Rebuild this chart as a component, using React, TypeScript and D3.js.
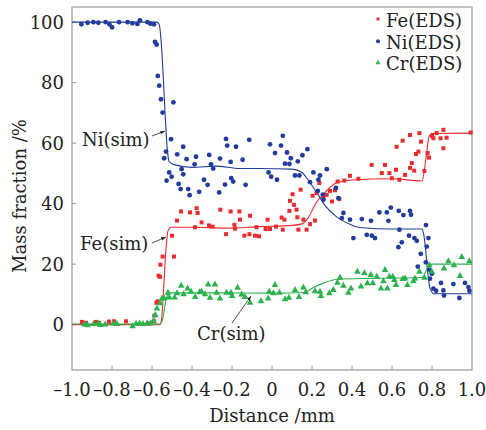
import React from "react";
import * as d3 from "d3";

const xTicks = [-1.0, -0.8, -0.6, -0.4, -0.2, 0, 0.2, 0.4, 0.6, 0.8, 1.0];
const xTickLabels = ["–1.0", "–0.8", "–0.6", "–0.4", "–0.2", "0", "0.2", "0.4", "0.6", "0.8", "1.0"];
const yTicks = [0, 20, 40, 60, 80, 100];

const niSim: [number, number][] = [
  [-1, 100], [-0.575, 100], [-0.563, 99], [-0.556, 95], [-0.522, 57], [-0.515, 54], [-0.49, 52.9], [-0.4, 52.0],
  [-0.28, 52.4], [-0.16, 51.6], [-0.06, 51.6], [0.1, 51.4], [0.15, 50.3], [0.18, 47.9], [0.22, 44], [0.27, 39],
  [0.32, 35.8], [0.39, 33.2], [0.44, 32.1], [0.6, 31.6], [0.75, 31.6], [0.758, 30], [0.79, 12], [0.81, 10.2], [1, 10.2],
];
const feSim: [number, number][] = [
  [-1, 0], [-0.56, 0], [-0.552, 2], [-0.53, 25], [-0.52, 31], [-0.505, 32.2], [-0.4, 32.2], [-0.23, 31.9],
  [-0.06, 32.4], [0.1, 32.8], [0.15, 33.3], [0.18, 35.2], [0.22, 40.2], [0.27, 44], [0.32, 46.8], [0.4, 47.8],
  [0.6, 48.2], [0.75, 47.5], [0.77, 55], [0.785, 62.2], [0.8, 63.2], [1, 63.3],
];
const crSim: [number, number][] = [
  [-1, 0.2], [-0.56, 0.2], [-0.55, 1], [-0.525, 9.5], [-0.512, 10.5], [-0.3, 10.5], [0.0, 10.4], [0.16, 10.6],
  [0.2, 12], [0.26, 13.8], [0.33, 15.0], [0.5, 15.3], [0.75, 15.6], [0.785, 19.6], [0.8, 20], [1, 20],
];

const niEDS: [number, number][] = [
  [-0.953, 99.3], [-0.922, 99.8], [-0.893, 100], [-0.868, 99.8], [-0.832, 100], [-0.813, 99.3], [-0.8, 98.3],
  [-0.765, 100], [-0.722, 100], [-0.698, 99.6], [-0.673, 99.4], [-0.66, 100.6], [-0.623, 100], [-0.608, 99.5],
  [-0.59, 99.3], [-0.585, 93.5], [-0.577, 92.6], [-0.571, 82.2], [-0.564, 79.0], [-0.555, 74.5], [-0.547, 70.1],
  [-0.493, 73.5],
  [-0.539, 55.0], [-0.53, 57.2], [-0.505, 61.3], [-0.514, 50.3], [-0.502, 48.9], [-0.527, 47.6], [-0.474, 56.3],
  [-0.444, 58.8], [-0.452, 51.4], [-0.444, 49.7], [-0.467, 46.5], [-0.457, 44.8], [-0.419, 44.8], [-0.412, 42.8],
  [-0.427, 54.7], [-0.387, 53.0], [-0.38, 55.5], [-0.364, 43.9], [-0.34, 47.9], [-0.322, 46.2], [-0.314, 56.1],
  [-0.305, 53.0], [-0.294, 51.6], [-0.26, 54.9], [-0.264, 43.7], [-0.235, 46.3], [-0.23, 61.4], [-0.224, 59.2],
  [-0.207, 53.8], [-0.204, 48.4], [-0.194, 47.3], [-0.18, 58.8], [-0.147, 54.5], [-0.132, 46.2], [-0.114, 61.1],
  [-0.017, 50.3], [-0.01, 59.6], [-0.004, 48.9], [0.015, 56.7], [0.025, 47.9], [0.045, 59.2], [0.054, 62.4],
  [0.065, 53.2], [0.075, 56.9], [0.087, 53.1], [0.094, 55.0], [0.115, 49.3], [0.129, 54.0], [0.137, 49.3],
  [0.152, 56.0], [0.177, 58.0], [0.19, 47.1], [0.207, 50.3], [0.232, 47.9], [0.24, 49.3], [0.254, 43.0],
  [0.274, 51.4], [0.229, 44.2], [0.257, 41.3], [0.32, 45.2], [0.332, 41.8], [0.357, 36.9], [0.349, 35.2],
  [0.39, 34.7], [0.407, 28.6], [0.449, 34.9], [0.474, 29.7], [0.499, 29.4], [0.495, 34.3], [0.515, 28.6],
  [0.537, 37.1], [0.574, 37.1], [0.582, 34.3], [0.594, 38.7], [0.634, 37.6], [0.657, 36.2], [0.69, 37.6],
  [0.695, 36.3], [0.637, 31.4], [0.685, 29.4], [0.712, 28.6], [0.77, 32.9], [0.782, 28.6], [0.774, 25.8],
  [0.649, 27.2], [0.632, 25.6], [0.724, 27.7],
  [0.744, 23.4], [0.769, 20.6], [0.729, 19.2], [0.787, 18.2], [0.799, 16.8], [0.79, 15.2], [0.807, 11.9],
  [0.82, 11.2], [0.857, 11.3], [0.86, 9.6], [0.845, 13.8], [0.907, 13.4], [0.937, 8.8], [0.965, 13.8],
  [0.982, 12.4], [0.987, 11.2],
];

const feEDS: [number, number][] = [
  [-0.95, 0.9], [-0.93, 0.6], [-0.88, 0.9], [-0.865, 0.6], [-0.815, 1.0], [-0.79, 1.1], [-0.73, 1.1],
  [-0.617, 0.4], [-0.59, 1.1], [-0.588, 3.0], [-0.578, 7.2], [-0.572, 7.7], [-0.567, 16.2], [-0.56, 15.8],
  [-0.558, 19.8], [-0.547, 22.5], [-0.49, 22.5], [-0.5, 29.4], [-0.475, 34.4], [-0.455, 37.4],
  [-0.41, 37.1], [-0.377, 38.5], [-0.372, 36.9], [-0.352, 33.8], [-0.385, 32.2], [-0.315, 32.8], [-0.297, 32.4],
  [-0.258, 38.0], [-0.23, 29.9], [-0.207, 37.4], [-0.188, 33.0], [-0.163, 37.4], [-0.16, 34.7], [-0.185, 31.7],
  [-0.138, 29.4], [-0.113, 29.9], [-0.085, 29.4], [-0.065, 29.2], [-0.11, 36.0], [-0.077, 32.2], [-0.032, 31.6],
  [-0.01, 31.6], [-0.022, 34.7], [0.02, 32.4], [0.054, 31.4], [0.048, 35.4], [0.062, 34.7], [0.09, 40.9],
  [0.087, 37.6], [0.103, 43.1], [0.11, 39.6], [0.123, 38.0], [0.127, 35.5], [0.132, 31.4], [0.143, 44.6],
  [0.157, 34.7], [0.173, 31.4], [0.19, 33.2], [0.215, 34.4], [0.203, 42.6], [0.223, 43.5], [0.237, 46.8],
  [0.257, 41.8], [0.273, 42.9], [0.29, 44.2], [0.3, 40.7], [0.315, 44.4], [0.328, 47.3], [0.337, 41.5],
  [0.362, 47.6], [0.39, 49.2], [0.432, 48.2], [0.498, 52.8], [0.549, 50.1], [0.565, 52.8], [0.587, 50.1],
  [0.599, 48.4], [0.62, 51.2], [0.637, 47.9], [0.665, 49.5], [0.69, 51.8], [0.711, 50.9], [0.699, 53.4],
  [0.762, 50.8],
  [0.623, 58.8], [0.653, 60.8], [0.69, 62.7], [0.72, 56.4], [0.732, 57.2], [0.737, 63.3], [0.745, 60.5],
  [0.778, 56.7], [0.785, 55.2], [0.8, 62.4], [0.807, 61.6], [0.823, 63.3], [0.843, 61.6], [0.857, 64.4],
  [0.857, 58.3], [0.873, 61.8], [0.993, 63.5],
];

const crEDS: [number, number][] = [
  [-0.937, 0.2], [-0.922, -0.1], [-0.892, 0.3], [-0.87, 0.5], [-0.859, 0.0], [-0.834, 0.2], [-0.795, 0.5],
  [-0.775, 0.3], [-0.697, -0.4], [-0.68, 0.4], [-0.662, 0.5], [-0.645, 0.3], [-0.625, 0.5], [-0.605, 0.6],
  [-0.592, 1.4], [-0.584, 3.3], [-0.575, 5.5], [-0.559, 7.2], [-0.55, 8.8], [-0.539, 8.8], [-0.52, 10.7],
  [-0.514, 9.1], [-0.487, 9.1], [-0.475, 10.5], [-0.454, 13.0], [-0.442, 10.2], [-0.422, 12.1], [-0.405, 11.0],
  [-0.384, 9.3], [-0.362, 10.8], [-0.352, 11.0], [-0.335, 10.2], [-0.319, 13.4], [-0.31, 9.0], [-0.285, 13.4],
  [-0.277, 10.7], [-0.26, 8.8], [-0.227, 10.7], [-0.205, 10.7], [-0.2, 9.6], [-0.172, 12.3], [-0.152, 10.1],
  [-0.135, 9.3], [-0.11, 7.4], [-0.055, 7.9], [-0.019, 8.8], [-0.014, 11.0], [0.007, 10.5], [0.015, 13.2],
  [0.037, 10.7], [0.065, 8.5], [0.085, 9.0], [0.115, 11.6], [0.135, 9.3], [0.157, 12.4], [0.169, 10.8],
  [0.215, 11.2], [0.24, 11.0], [0.245, 9.6], [0.287, 10.5], [0.307, 11.6], [0.327, 14.0], [0.34, 15.6],
  [0.357, 13.0], [0.382, 10.7], [0.395, 12.1], [0.427, 17.6], [0.445, 12.7], [0.462, 17.1], [0.477, 13.8],
  [0.494, 16.5], [0.504, 13.8], [0.524, 16.0], [0.545, 12.1], [0.557, 14.5], [0.565, 18.2], [0.577, 12.1],
  [0.587, 16.0], [0.604, 16.0], [0.612, 14.9], [0.62, 13.2], [0.654, 15.2], [0.665, 15.4], [0.677, 13.2],
  [0.707, 14.5], [0.715, 15.4], [0.737, 17.6], [0.762, 15.6], [0.787, 19.8], [0.799, 17.6], [0.86, 18.7],
  [0.882, 21.1], [0.91, 19.8], [0.94, 16.2], [0.949, 22.5], [0.987, 21.1],
];

const legendItems = ["Fe(EDS)", "Ni(EDS)", "Cr(EDS)"];

const RED = "#ec2a2f";
const BLUE = "#213c9e";
const GREEN = "#2bb24c";
const AXIS = "#9a9a9a";
const FONT = "DejaVu Serif";

export default function App() {
  const W = 486, H = 430;
  const left = 72, right = 472, top = 7, bottom = 370;
  const x = d3.scaleLinear().domain([-1, 1]).range([left, right]);
  const y = d3.scaleLinear().domain([-15, 105]).range([bottom, top]);
  const lineGen = d3
    .line<[number, number]>()
    .x((d) => x(d[0]))
    .y((d) => y(d[1]))
    .curve(d3.curveMonotoneX);

  const tri = (cx: number, cy: number, s: number) =>
    `M${cx},${cy - s * 0.6}L${cx + s * 0.55},${cy + s * 0.4}L${cx - s * 0.55},${cy + s * 0.4}Z`;

  const legendColors = [RED, BLUE, GREEN];

  return (
    <svg width={W} height={H} style={{ position: "absolute", left: 0, top: 0, background: "#fff" }} fontFamily={FONT}>
      <defs>
        <marker id="arr" viewBox="0 0 10 10" refX="10" refY="5" markerWidth="6" markerHeight="6" orient="auto">
          <path d="M0,1.5L10,5L0,8.5Z" fill="#222" />
        </marker>
      </defs>
      <rect x={0} y={0} width={W} height={H} fill="#fff" />
      <rect x={left} y={top} width={right - left} height={bottom - top} fill="none" stroke={AXIS} strokeWidth={1.2} />
      {xTicks.map((t, i) => (
        <g key={"xt" + i}>
          {i > 0 && i < xTicks.length - 1 && (
            <line x1={x(t)} x2={x(t)} y1={bottom} y2={bottom - 4} stroke={AXIS} strokeWidth={1} />
          )}
          <text x={x(t)} y={396} fontSize={18} textAnchor="middle" fill="#222">
            {xTickLabels[i]}
          </text>
        </g>
      ))}
      {yTicks.map((t) => (
        <g key={"yt" + t}>
          <line x1={left} x2={left + 4} y1={y(t)} y2={y(t)} stroke={AXIS} strokeWidth={1} />
          <text x={64} y={y(t)} dy="0.36em" fontSize={18} textAnchor="end" fill="#222">
            {t}
          </text>
        </g>
      ))}
      <text x={272} y={422} fontSize={18} textAnchor="middle" fill="#222">
        Distance /mm
      </text>
      <text transform="translate(26, 196) rotate(-90)" fontSize={18} textAnchor="middle" fill="#222">
        Mass fraction /%
      </text>

      <path d={lineGen(niSim) || ""} fill="none" stroke={BLUE} strokeWidth={1.1} />
      <path d={lineGen(feSim) || ""} fill="none" stroke={RED} strokeWidth={1.1} />
      <path d={lineGen(crSim) || ""} fill="none" stroke={GREEN} strokeWidth={1.1} />

      {feEDS.map((d, i) => (
        <rect key={"fe" + i} x={x(d[0]) - 2} y={y(d[1]) - 2} width={4} height={4} fill={RED} />
      ))}
      {niEDS.map((d, i) => (
        <circle key={"ni" + i} cx={x(d[0])} cy={y(d[1])} r={2.4} fill={BLUE} />
      ))}
      {crEDS.map((d, i) => (
        <path key={"cr" + i} d={tri(x(d[0]), y(d[1]), 6)} fill={GREEN} />
      ))}

      <text x={82} y={146} fontSize={18} fill="#222">Ni(sim)</text>
      <line x1={152} y1={136} x2={165} y2={131} stroke="#222" strokeWidth={0.8} markerEnd="url(#arr)" />
      <text x={80} y={250} fontSize={18} fill="#222">Fe(sim)</text>
      <line x1={152} y1={243} x2={166} y2={237} stroke="#222" strokeWidth={0.8} markerEnd="url(#arr)" />
      <text x={197} y={340} fontSize={18} fill="#222">Cr(sim)</text>
      <line x1={232} y1={323} x2={251} y2={296} stroke="#222" strokeWidth={0.8} markerEnd="url(#arr)" />

      {legendItems.map((name, i) => {
        const ly = 21 + i * 21.7;
        const mx = 378;
        return (
          <g key={"lg" + i}>
            {i === 0 && <rect x={mx - 1.5} y={ly - 3.5} width={3} height={3} fill={legendColors[i]} />}
            {i === 1 && <circle cx={mx} cy={ly - 1.5} r={2} fill={legendColors[i]} />}
            {i === 2 && <path d={tri(mx, ly - 2, 4.5)} fill={legendColors[i]} />}
            <text x={386} y={ly} dy="0.33em" fontSize={18} fill="#222">
              {name}
            </text>
          </g>
        );
      })}
    </svg>
  );
}
